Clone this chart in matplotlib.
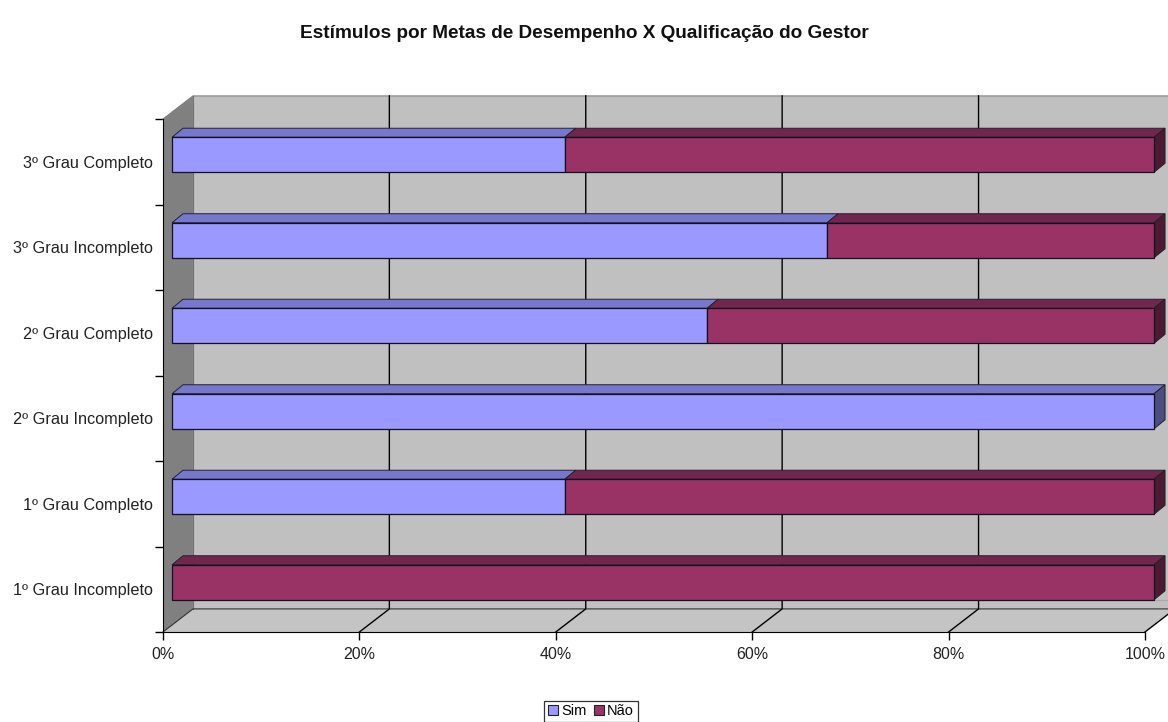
import numpy as np
import matplotlib
matplotlib.use("Agg")
import matplotlib.pyplot as plt
from matplotlib.patches import Polygon, Patch

plt.rcParams['font.family'] = ['Liberation Sans', 'DejaVu Sans']

# data (bottom to top)
categories = ['1º Grau Incompleto', '1º Grau Completo', '2º Grau Incompleto',
              '2º Grau Completo', '3º Grau Incompleto', '3º Grau Completo']
sim = [0.0, 40.0, 100.0, 54.5, 66.7, 40.0]
nao = [100 - v for v in sim]
series_names = ['Sim', 'Não']
xticks = [0, 20, 40, 60, 80, 100]
xlabels = ['0%', '20%', '40%', '60%', '80%', '100%']

title = 'Estímulos por Metas de Desempenho X Qualificação do Gestor'

front_cols = ['#9999ff', '#993366']
top_cols = ['#7777cc', '#73264d']
side_cols = ['#4d4d80', '#4d1a33']

# 3D look (data units: percent / category)
DX, DY = 3.05, 0.27        # wall depth
OX, OY = 0.92, 0.082       # bar front plane shift
BX, BY = 1.12, 0.105       # bar depth
BH = 0.41                  # bar height

fig = plt.figure(figsize=(11.68, 7.22), dpi=100)
ax = fig.add_axes([163 / 1168, 90 / 722, 982 / 1168, 513 / 722])
ax.set_xlim(0, 100)
ax.set_ylim(0, 6)
ax.patch.set_visible(False)
for s in ['top', 'right']:
    ax.spines[s].set_visible(False)
ax.spines['left'].set_color('black')
ax.spines['bottom'].set_color('black')
ax.spines['left'].set_zorder(10)
ax.spines['bottom'].set_zorder(10)

n = len(categories)

# walls
back = Polygon([(DX, DY), (100 + DX, DY), (100 + DX, n + DY), (DX, n + DY)],
               closed=True, facecolor='#c0c0c0', edgecolor='none', zorder=0, clip_on=False)
ax.add_patch(back)
left = Polygon([(0, 0), (DX, DY), (DX, n + DY), (0, n)],
               closed=True, facecolor='#808080', edgecolor='none', zorder=1, clip_on=False)
ax.add_patch(left)
floor = Polygon([(0, 0), (DX, DY), (100 + DX, DY), (100, 0)],
                closed=True, facecolor='#c4c4c4', edgecolor='none', zorder=1, clip_on=False)
ax.add_patch(floor)
ax.plot([0, DX, 100 + DX], [n, n + DY, n + DY], color='#808080', lw=0.8, clip_on=False, zorder=2)
ax.plot([DX, DX], [DY, n + DY], color='#707070', lw=0.8, clip_on=False, zorder=2)
ax.plot([0, DX, 100 + DX], [0, DY, DY], color='#303030', lw=0.8, clip_on=False, zorder=2)
ax.plot([DX, 100 + DX], [DY + 0.1, DY + 0.1], color='#a8a8a8', lw=0.8, clip_on=False, zorder=2)

# gridlines on back wall + floor
for x in xticks[1:]:
    ax.plot([x, x + DX, x + DX], [0, DY, n + DY], color='black', lw=1.0,
            clip_on=False, zorder=3)

# bars
for i in range(n):
    vals = [sim[i], nao[i]]
    yb = i + 0.5 - BH / 2 + OY
    yt = i + 0.5 + BH / 2 + OY
    start = 0.0
    last = max(j for j in range(2) if vals[j] > 0)
    for j, v in enumerate(vals):
        if v <= 0:
            continue
        x0 = start + OX
        x1 = start + v + OX
        ax.add_patch(Polygon([(x0, yt), (x0 + BX, yt + BY), (x1 + BX, yt + BY), (x1, yt)],
                             closed=True, facecolor=top_cols[j], edgecolor='#222233',
                             lw=0.7, zorder=5, clip_on=False))
        ax.add_patch(Polygon([(x0, yb), (x1, yb), (x1, yt), (x0, yt)],
                             closed=True, facecolor=front_cols[j], edgecolor='#111122',
                             lw=0.9, zorder=6, clip_on=False))
        if j == last:
            ax.add_patch(Polygon([(x1, yb), (x1, yt), (x1 + BX, yt + BY), (x1 + BX, yb + BY)],
                                 closed=True, facecolor=side_cols[j], edgecolor='#222222',
                                 lw=0.7, zorder=5, clip_on=False))
        start += v

# ticks
ax.set_xticks(xticks)
ax.set_xticklabels(xlabels, fontsize=11.5, color='#222222')
ax.tick_params(axis='x', direction='out', length=6, width=1, pad=5)
ax.set_yticks(np.arange(n + 1))
ax.set_yticklabels([])
ax.tick_params(axis='y', direction='out', length=6, width=1)
ax.set_yticks(np.arange(n) + 0.5, minor=True)
ax.set_yticklabels(categories, minor=True, fontsize=11.7, color='#222222')
ax.tick_params(axis='y', which='minor', length=0, pad=7.5)

fig.text(584 / 1168, 1 - 33 / 722, title, ha='center', va='center',
         fontsize=13.7, fontweight='bold', color='#111111')

handles = [Patch(facecolor=front_cols[k], edgecolor='#222222', lw=0.8) for k in range(2)]
leg = fig.legend(handles, series_names, loc='lower center', bbox_to_anchor=(591 / 1168, 0.0),
                 ncol=2, fontsize=10.5, frameon=True, fancybox=False, edgecolor='black',
                 handlelength=0.7, handleheight=0.7, handletextpad=0.2, columnspacing=0.5,
                 borderpad=0.25, borderaxespad=0)
leg.get_frame().set_linewidth(0.9)

fig.savefig('out.png', dpi=100)
